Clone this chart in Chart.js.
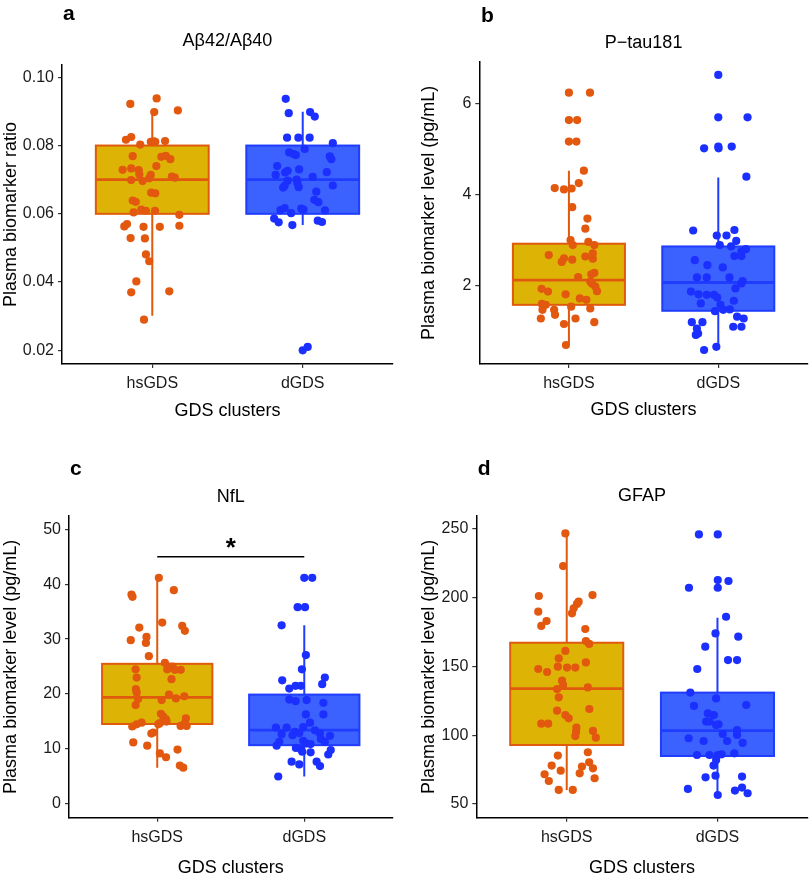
<!DOCTYPE html>
<html>
<head>
<meta charset="utf-8">
<script src="https://cdn.jsdelivr.net/npm/chart.js@4.4.0/dist/chart.umd.min.js"></script>
<style>
    body { margin: 0; background: #fff; }
    .panel { position: absolute; }
    .panel canvas { display: block; }
</style>
</head>
<body>
<div class="panel" style="left:0;top:0"><canvas id="chartA" width="406" height="420"></canvas></div>
<div class="panel" style="left:406px;top:0"><canvas id="chartB" width="406" height="420"></canvas></div>
<div class="panel" style="left:0;top:440px"><canvas id="chartC" width="406" height="438"></canvas></div>
<div class="panel" style="left:406px;top:440px"><canvas id="chartD" width="406" height="438"></canvas></div>
<script>
// Categories on the x axis
const groups = ['hsGDS', 'dGDS'];

// a - Abeta42/Abeta40 ratio
const abHsValues = [0.0922, 0.0938, 0.0898, 0.0903, 0.0817, 0.0825, 0.0803, 0.0811, 0.0812, 0.0811, 0.0813, 0.0769, 0.0767, 0.0770, 0.0760, 0.0740, 0.0729, 0.0733, 0.0728, 0.0715, 0.0714, 0.0709, 0.0706, 0.0699, 0.0696, 0.0704, 0.0662, 0.0660, 0.0639, 0.0635, 0.0604, 0.0612, 0.0609, 0.0609, 0.0597, 0.0563, 0.0570, 0.0562, 0.0562, 0.0565, 0.0529, 0.0528, 0.0481, 0.0461, 0.0402, 0.0370, 0.0373, 0.0290];
const abHsJitter = [-0.146, 0.029, 0.013, 0.17, -0.175, -0.14, -0.08, -0.01, 0.01, 0.02, 0.085, -0.13, 0.06, 0.09, 0.12, 0.027, -0.197, -0.14, -0.09, -0.086, -0.01, 0.13, 0.15, -0.14, -0.064, -0.02, -0.007, 0.02, -0.13, -0.11, -0.124, -0.073, -0.042, 0.018, 0.18, -0.186, -0.168, -0.058, 0.05, 0.18, -0.144, -0.049, -0.042, -0.02, -0.106, -0.14, 0.113, -0.055];
const abDValues = [0.0937, 0.0895, 0.0898, 0.0885, 0.0823, 0.0823, 0.0823, 0.0807, 0.0790, 0.0780, 0.0775, 0.0772, 0.0768, 0.0760, 0.0740, 0.0726, 0.0721, 0.0730, 0.0722, 0.0714, 0.0708, 0.0697, 0.0700, 0.0690, 0.0682, 0.0677, 0.0678, 0.0683, 0.0665, 0.0641, 0.0634, 0.0610, 0.0611, 0.0617, 0.0602, 0.0615, 0.0612, 0.0586, 0.0575, 0.0567, 0.0580, 0.0576, 0.0200, 0.0210];
const abDJitter = [-0.113, -0.093, 0.049, 0.08, -0.104, -0.029, 0.046, 0.2, 0.013, -0.09, -0.06, -0.046, 0.18, 0.19, -0.17, -0.10, -0.117, -0.024, 0.16, -0.18, 0.066, -0.10, -0.04, -0.035, -0.12, -0.13, -0.027, 0.2, 0.09, 0.077, 0.104, 0.148, -0.148, -0.12, -0.077, -0.01, 0.005, -0.19, -0.16, -0.069, 0.1, 0.128, 0.0, 0.033];
// box stats: lower whisker, Q1, median, Q3, upper whisker
const abHsBox = [0.0301, 0.06, 0.07, 0.08, 0.0898];
const abDBox = [0.0567, 0.06, 0.07, 0.08, 0.0899];
const abTicks = [0.02, 0.04, 0.06, 0.08, 0.10];

// b - P-tau181
const ptHsValues = [6.23, 6.23, 5.63, 5.63, 5.16, 5.16, 4.52, 4.14, 4.11, 4.13, 4.25, 3.72, 3.47, 3.25, 3.00, 2.89, 2.96, 2.89, 2.67, 2.60, 2.52, 2.57, 2.64, 2.71, 2.59, 2.19, 2.25, 2.28, 2.09, 2.04, 1.98, 1.88, 1.93, 1.87, 1.81, 1.72, 1.69, 1.60, 1.58, 1.54, 1.50, 1.47, 1.28, 1.47, 1.36, 1.28, 1.16, 1.20, 0.70];
const ptHsJitter = [0, 0.141, 0, 0.055, 0, 0.05, 0.10, -0.095, -0.033, 0.018, 0.066, 0.022, 0.124, 0.11, 0.011, 0.026, 0.13, 0.17, -0.135, -0.033, -0.048, 0.022, 0.11, 0.16, 0.16, 0.062, 0.15, 0.17, 0.143, 0.155, 0.177, 0.188, -0.183, -0.14, -0.022, 0.073, 0.117, -0.181, -0.155, 0.015, 0.143, -0.177, -0.188, -0.099, -0.093, 0.044, -0.033, 0.17, -0.02];
const ptDValues = [6.62, 5.69, 5.69, 5.01, 5.05, 5.01, 5.05, 4.39, 3.21, 3.10, 3.10, 3.22, 2.98, 2.89, 2.86, 2.75, 2.80, 2.65, 2.65, 2.56, 2.45, 2.40, 2.18, 2.18, 2.18, 2.10, 2.05, 1.94, 1.87, 1.81, 1.80, 1.80, 1.74, 1.61, 1.58, 1.67, 1.44, 1.47, 1.48, 1.20, 1.20, 1.32, 1.28, 1.06, 0.95, 0.92, 1.10, 1.10, 0.66, 0.59];
const ptDJitter = [0, 0, 0.196, -0.095, 0, 0.002, 0.09, 0.188, -0.168, -0.01, 0.055, 0.108, 0.12, 0.01, 0.086, 0.155, 0.185, 0.108, 0.155, -0.157, -0.073, 0.03, -0.143, -0.077, 0.075, 0.163, 0.155, 0.115, -0.183, -0.132, -0.077, -0.029, -0.007, -0.117, 0.015, 0.104, -0.022, 0.033, 0.077, -0.177, -0.106, 0.126, 0.17, -0.143, -0.135, -0.15, 0.1, 0.155, -0.013, -0.095];
const ptHsBox = [0.70, 1.58, 2.12, 2.92, 4.52];
const ptDBox = [0.66, 1.45, 2.07, 2.86, 4.37];
const ptTicks = [2, 4, 6];

// c - NfL
const nflHsValues = [41.15, 38.1, 37.7, 38.9, 33.0, 32.1, 32.4, 31.5, 29.8, 30.4, 29.3, 26.9, 24.5, 23.0, 25.7, 25.0, 25.0, 24.5, 24.4, 24.4, 22.7, 20.9, 20.3, 19.1, 18.0, 18.9, 19.9, 19.2, 19.6, 16.4, 15.9, 15.4, 14.7, 14.5, 15.0, 14.1, 14.5, 14.8, 15.6, 14.7, 14.2, 14.2, 13.0, 12.8, 11.2, 10.6, 9.2, 8.5, 9.9, 7.0, 6.6];
const nflHsJitter = [0.011, -0.175, -0.168, 0.113, 0.034, -0.122, 0.17, 0.188, -0.18, -0.073, -0.077, -0.057, -0.147, -0.14, 0.052, 0.08, 0.104, 0.068, 0.12, 0.16, 0.097, -0.145, -0.14, -0.13, -0.147, 0.03, 0.08, 0.127, 0.184, 0.025, 0.041, 0.059, 0.018, 0.007, 0.063, -0.17, -0.14, -0.106, 0.195, 0.188, 0.159, 0.2, -0.027, -0.04, -0.163, -0.068, 0.018, 0.06, 0.138, 0.154, 0.177];
const nflDValues = [41.15, 41.15, 35.8, 35.8, 32.5, 27.1, 24.5, 22.5, 23.0, 21.8, 21.0, 21.5, 21.5, 19.0, 18.7, 18.9, 18.4, 16.3, 16.3, 14.8, 13.9, 13.9, 14.0, 13.1, 12.9, 13.4, 12.8, 12.7, 12.5, 12.4, 11.8, 11.3, 11.3, 10.6, 11.5, 11.0, 10.9, 10.2, 10.0, 9.5, 9.4, 9.8, 9.0, 7.7, 7.2, 7.7, 6.9, 5.0];
const nflDJitter = [0, 0.054, -0.045, 0.005, -0.154, 0.011, -0.016, -0.15, 0.14, 0.122, -0.102, -0.059, -0.023, -0.102, -0.059, 0.016, 0.13, 0.011, 0.13, 0.039, -0.193, -0.12, -0.007, -0.064, -0.034, 0.073, 0.107, -0.154, -0.08, 0.175, 0.113, 0.14, -0.17, -0.188, -0.007, 0.016, 0.043, -0.057, -0.025, -0.014, 0.043, 0.18, 0.163, -0.086, -0.034, 0.084, 0.107, -0.177];
const nflHsBox = [6.6, 14.55, 19.4, 25.5, 41.15];
const nflDBox = [5.0, 10.7, 13.45, 19.9, 32.5];
const nflTicks = [0, 10, 20, 30, 40, 50];
const nflSigLevel = 45; // bracket height for the * comparison

// d - GFAP
const gfapHsValues = [246.8, 223.1, 201.3, 202.0, 197.2, 195.5, 192.3, 188.7, 189.9, 183.1, 179.5, 177.3, 168.5, 166.4, 161.3, 155.9, 153.0, 148.2, 146.0, 149.9, 149.2, 149.2, 139.7, 136.5, 133.6, 134.8, 127.6, 119.1, 117.9, 114.7, 112.3, 108.4, 108.4, 105.5, 102.6, 99.4, 103.1, 98.2, 85.2, 87.6, 77.9, 74.2, 71.6, 66.7, 77.2, 80.3, 75.9, 72.3, 68.7, 60.2, 60.2];
const gfapHsJitter = [-0.009, -0.024, -0.185, 0.171, 0.079, 0.068, 0.046, 0.035, -0.189, -0.134, -0.169, 0.123, 0.127, 0.149, -0.009, -0.053, 0.127, -0.189, -0.13, -0.059, 0.002, 0.057, -0.031, -0.024, -0.064, 0.14, -0.053, 0.15, -0.064, -0.009, 0.013, -0.169, -0.123, 0.064, 0.062, 0.057, 0.174, 0.193, -0.059, 0.14, -0.1, -0.04, -0.147, -0.119, 0.101, 0.149, 0.174, 0.086, 0.185, -0.053, 0.04];
const gfapDValues = [246.1, 246.1, 212.9, 212.2, 207.3, 207.3, 186.2, 174.1, 171.7, 164.4, 154.7, 154.7, 148.2, 131.0, 126.8, 121.3, 122.0, 115.9, 114.7, 109.9, 109.9, 107.9, 107.5, 103.8, 100.9, 100.2, 97.8, 95.8, 95.8, 94.4, 85.6, 85.6, 85.6, 86.1, 86.8, 82.0, 77.9, 69.4, 70.6, 69.9, 60.9, 56.5, 59.7, 61.9, 57.8];
const gfapDJitter = [-0.123, 0.002, 0.002, 0.073, -0.189, 0.002, 0.057, -0.013, 0.138, -0.081, 0.07, 0.13, -0.134, -0.18, -0.009, -0.156, 0.191, -0.064, -0.024, -0.075, -0.053, 0.007, -0.009, 0.13, 0.035, 0.13, -0.191, -0.092, 0.064, 0.167, -0.136, -0.053, 0.002, 0.028, 0.112, -0.009, -0.026, -0.079, -0.013, 0.163, -0.196, 0.002, 0.116, 0.163, 0.2];
const gfapHsBox = [60.2, 92.9, 133.9, 167.3, 246.8];
const gfapDBox = [56.5, 84.9, 103.3, 131.0, 185.5];
const gfapTicks = [50, 100, 150, 200, 250];

// Colours
const hsPoint = '#E2580F';
const hsFill = '#DDB406';
const hsLine = '#E05A0E';
const dPoint = '#1B2FFF';
const dFill = '#3B62FF';
const dLine = '#1F3CFF';
const fontFamily = '"Liberation Sans", Arial, sans-serif';

const boxWidth = 0.75;

// Draws whiskers, boxes and medians under the jittered points
const boxPlugin = {
    id: 'boxes',
    beforeDatasetsDraw(chart, args, opts) {
        const { ctx } = chart;
        const xs = chart.scales.x;
        const ys = chart.scales.y;
        opts.stats.forEach((s, i) => {
            const g = i + 1;
            const xc = xs.getPixelForValue(g);
            const xl = xs.getPixelForValue(g - boxWidth / 2);
            const xr = xs.getPixelForValue(g + boxWidth / 2);
            const [lo, q1, med, q3, hi] = s.map(v => ys.getPixelForValue(v));
            ctx.save();
            ctx.strokeStyle = opts.lines[i];
            ctx.lineWidth = 2;
            ctx.beginPath();
            ctx.moveTo(xc, hi);
            ctx.lineTo(xc, q3);
            ctx.moveTo(xc, q1);
            ctx.lineTo(xc, lo);
            ctx.stroke();
            ctx.fillStyle = opts.fills[i];
            ctx.fillRect(xl, q3, xr - xl, q1 - q3);
            ctx.strokeRect(xl, q3, xr - xl, q1 - q3);
            ctx.lineWidth = 2.8;
            ctx.beginPath();
            ctx.moveTo(xl, med);
            ctx.lineTo(xr, med);
            ctx.stroke();
            ctx.restore();
        });
    }
};

// Panel letter and optional significance bracket
const extrasPlugin = {
    id: 'extras',
    afterDraw(chart, args, opts) {
        const { ctx } = chart;
        ctx.save();
        ctx.fillStyle = '#000';
        ctx.font = 'bold 21px ' + fontFamily;
        ctx.textBaseline = 'alphabetic';
        ctx.textAlign = 'left';
        ctx.fillText(opts.letter, opts.letterX, opts.letterY);
        if (opts.sigLevel != null) {
            const xs = chart.scales.x;
            const y = chart.scales.y.getPixelForValue(opts.sigLevel);
            const x1 = xs.getPixelForValue(1);
            const x2 = xs.getPixelForValue(2);
            ctx.strokeStyle = '#000';
            ctx.lineWidth = 1.5;
            ctx.beginPath();
            ctx.moveTo(x1, y);
            ctx.lineTo(x2, y);
            ctx.stroke();
            ctx.font = 'bold 26px ' + fontFamily;
            ctx.textAlign = 'center';
            ctx.fillText('*', (x1 + x2) / 2, y - 1);
        }
        ctx.restore();
    }
};

function toPoints(values, jitter, g) {
    return values.map((v, i) => ({ x: g + jitter[i], y: v }));
}

function buildPanel(id, p) {
    const tickFont = { family: fontFamily, size: 16 };
    const titleFont = { family: fontFamily, size: 18 };
    return new Chart(document.getElementById(id), {
        type: 'scatter',
        data: {
            datasets: [
                { data: toPoints(p.hs, p.hsJit, 1), backgroundColor: hsPoint, borderWidth: 0, pointRadius: 4.1 },
                { data: toPoints(p.d, p.dJit, 2), backgroundColor: dPoint, borderWidth: 0, pointRadius: 4.1 }
            ]
        },
        options: {
            responsive: false,
            animation: false,
            events: [],
            layout: { padding: { left: 0, right: p.padRight, top: 0, bottom: 0 } },
            plugins: {
                legend: { display: false },
                tooltip: { enabled: false },
                title: {
                    display: true,
                    text: p.title,
                    fullSize: false,
                    color: '#000',
                    font: { family: fontFamily, size: 18, weight: 'normal' },
                    padding: { top: p.titleTop, bottom: p.titleBottom }
                },
                boxes: { stats: [p.hsBox, p.dBox], fills: [hsFill, dFill], lines: [hsLine, dLine] },
                extras: { letter: p.letter, letterX: p.letterX, letterY: p.letterY, sigLevel: p.sigLevel }
            },
            scales: {
                x: {
                    type: 'linear',
                    min: 0.4,
                    max: 2.6,
                    afterFit: s => { s.height = p.xAxisH; },
                    afterBuildTicks: s => { s.ticks = [{ value: 1 }, { value: 2 }]; },
                    border: { display: true, color: '#000', width: 1.5 },
                    grid: { drawOnChartArea: false, drawTicks: true, tickLength: 4, color: '#333', lineWidth: 1.2 },
                    ticks: { font: tickFont, color: '#1a1a1a', padding: 6, maxRotation: 0, callback: (v, i) => groups[i] },
                    title: { display: true, text: 'GDS clusters', color: '#000', font: titleFont, padding: { top: 0, bottom: p.xTitlePad } }
                },
                y: {
                    type: 'linear',
                    min: p.yMin,
                    max: p.yMax,
                    afterFit: s => { s.width = p.yAxisW; },
                    afterBuildTicks: s => { s.ticks = p.ticks.map(v => ({ value: v })); },
                    border: { display: true, color: '#000', width: 1.5 },
                    grid: { drawOnChartArea: false, drawTicks: true, tickLength: 4, color: '#333', lineWidth: 1.2 },
                    ticks: { font: tickFont, color: '#1a1a1a', padding: 4, callback: v => p.fmt(v) },
                    title: { display: true, text: p.yTitle, color: '#000', font: titleFont, padding: { top: p.yTitlePad, bottom: 0 } }
                }
            }
        },
        plugins: [boxPlugin, extrasPlugin]
    });
}

const levelTitle = 'Plasma biomarker level (pg/mL)';

buildPanel('chartA', {
    title: 'Aβ42/Aβ40', letter: 'a', letterX: 63, letterY: 19.5,
    hs: abHsValues, hsJit: abHsJitter, d: abDValues, dJit: abDJitter,
    hsBox: abHsBox, dBox: abDBox, ticks: abTicks, fmt: v => v.toFixed(2),
    yMin: 0.016, yMax: 0.1036, yTitle: 'Plasma biomarker ratio',
    padRight: 13, yAxisW: 62, xAxisH: 56, titleTop: 29.9, titleBottom: 13.5,
    xTitlePad: -1.5, yTitlePad: 0
});

buildPanel('chartB', {
    title: 'P−tau181', letter: 'b', letterX: 75, letterY: 21.7,
    hs: ptHsValues, hsJit: ptHsJitter, d: ptDValues, dJit: ptDJitter,
    hsBox: ptHsBox, dBox: ptDBox, ticks: ptTicks, fmt: v => String(v),
    yMin: 0.283, yMax: 6.91, yTitle: levelTitle,
    padRight: 0.5, yAxisW: 73.3, xAxisH: 56, titleTop: 31.9, titleBottom: 8.2,
    xTitlePad: -0.8, yTitlePad: 12.5
});

buildPanel('chartC', {
    title: 'NfL', letter: 'c', letterX: 70, letterY: 35,
    hs: nflHsValues, hsJit: nflHsJitter, d: nflDValues, dJit: nflDJitter,
    hsBox: nflHsBox, dBox: nflDBox, ticks: nflTicks, fmt: v => String(v),
    yMin: -2.5, yMax: 52.4, yTitle: levelTitle, sigLevel: nflSigLevel,
    padRight: 13.5, yAxisW: 69, xAxisH: 60.3, titleTop: 45.9, titleBottom: 8.5,
    xTitlePad: -0.5, yTitlePad: 0
});

buildPanel('chartD', {
    title: 'GFAP', letter: 'd', letterX: 71.7, letterY: 35,
    hs: gfapHsValues, hsJit: gfapHsJitter, d: gfapDValues, dJit: gfapDJitter,
    hsBox: gfapHsBox, dBox: gfapDBox, ticks: gfapTicks, fmt: v => String(v),
    yMin: 40, yMax: 259.5, yTitle: levelTitle,
    padRight: 1, yAxisW: 70.3, xAxisH: 60.3, titleTop: 45.2, titleBottom: 9.2,
    xTitlePad: -0.5, yTitlePad: 12.5
});
</script>
</body>
</html>
